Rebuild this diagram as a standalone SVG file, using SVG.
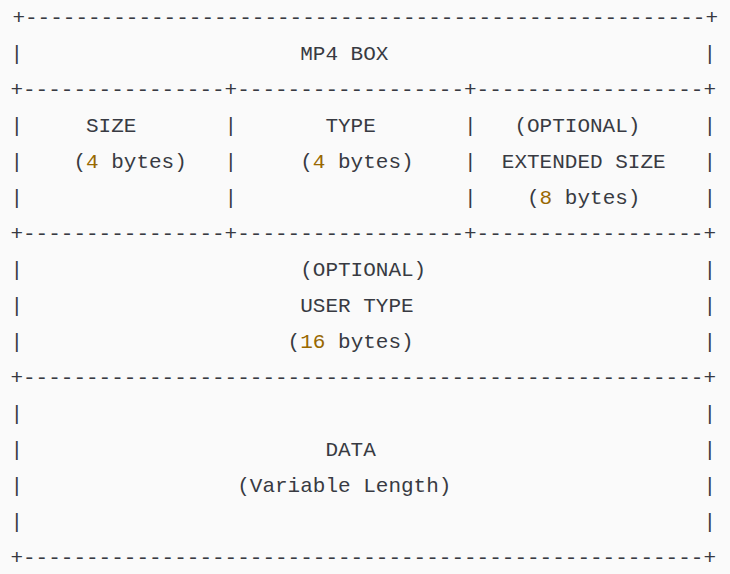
<svg xmlns="http://www.w3.org/2000/svg" width="730" height="574" viewBox="0 0 730 574">
<style>
text{font-family:"Liberation Mono","DejaVu Sans Mono",monospace;font-size:21px;fill:#383a42;white-space:pre}
.n{fill:#986801}
</style>
<rect width="730" height="574" fill="#fafafa"/>
<g id="borders">
<text x="12.4" y="24" textLength="705.6" lengthAdjust="spacing">+------------------------------------------------------+</text>
<text x="10.4" y="96" textLength="705.6" lengthAdjust="spacing">+----------------+------------------+------------------+</text>
<text x="10.4" y="240" textLength="705.6" lengthAdjust="spacing">+----------------+------------------+------------------+</text>
<text x="10.4" y="384" textLength="705.6" lengthAdjust="spacing">+------------------------------------------------------+</text>
<text x="10.4" y="564" textLength="705.6" lengthAdjust="spacing">+------------------------------------------------------+</text>
</g>
<g id="bars">
<text x="10.4" y="60">|</text><text x="703.4" y="60">|</text>
<text x="10.4" y="132">|</text><text x="224.6" y="132">|</text><text x="464" y="132">|</text><text x="703.4" y="132">|</text>
<text x="10.4" y="168">|</text><text x="224.6" y="168">|</text><text x="464" y="168">|</text><text x="703.4" y="168">|</text>
<text x="10.4" y="204">|</text><text x="224.6" y="204">|</text><text x="464" y="204">|</text><text x="703.4" y="204">|</text>
<text x="10.4" y="276">|</text><text x="703.4" y="276">|</text>
<text x="10.4" y="312">|</text><text x="703.4" y="312">|</text>
<text x="10.4" y="348">|</text><text x="703.4" y="348">|</text>
<text x="10.4" y="420">|</text><text x="703.4" y="420">|</text>
<text x="10.4" y="456">|</text><text x="703.4" y="456">|</text>
<text x="10.4" y="492">|</text><text x="703.4" y="492">|</text>
<text x="10.4" y="528">|</text><text x="703.4" y="528">|</text>
</g>
<g id="title"><text x="300.2" y="60">MP4 BOX</text></g>
<g id="size"><text x="86" y="132">SIZE</text><text x="73.4" y="168">(<tspan class="n">4</tspan> bytes)</text></g>
<g id="type"><text x="325.4" y="132">TYPE</text><text x="300.2" y="168">(<tspan class="n">4</tspan> bytes)</text></g>
<g id="extsize"><text x="514.4" y="132">(OPTIONAL)</text><text x="501.8" y="168">EXTENDED SIZE</text><text x="527" y="204">(<tspan class="n">8</tspan> bytes)</text></g>
<g id="usertype"><text x="300.2" y="276">(OPTIONAL)</text><text x="300.2" y="312">USER TYPE</text><text x="287.6" y="348">(<tspan class="n">16</tspan> bytes)</text></g>
<g id="data"><text x="325.4" y="456">DATA</text><text x="237.2" y="492">(Variable Length)</text></g>
</svg>
